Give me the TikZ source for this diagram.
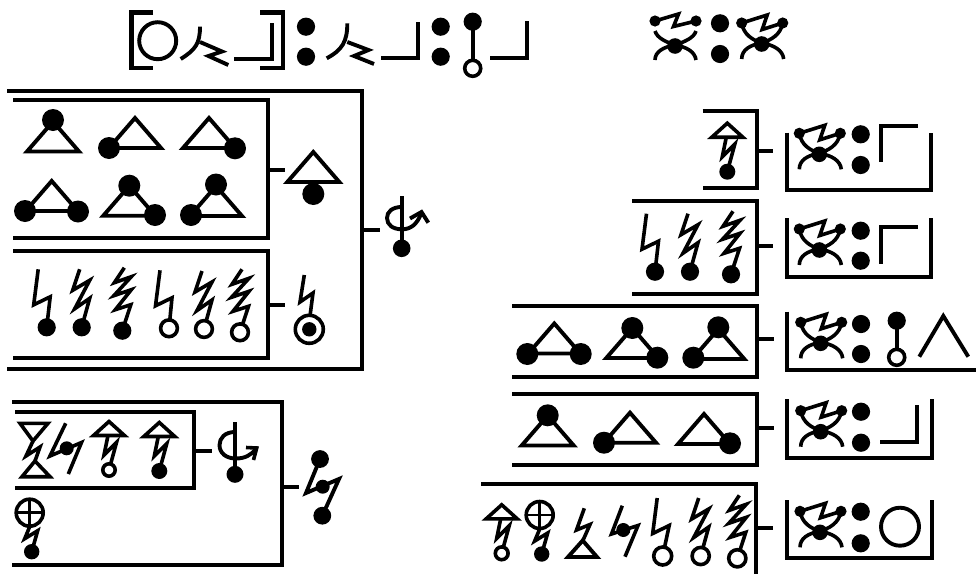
\documentclass[tikz,border=0pt]{standalone}
\tikzset{
  ink/.style={line width=3.9pt,line join=miter,line cap=butt,draw=black},
  thin ink/.style={line width=3.6pt,line join=miter,line cap=butt,draw=black},
  rule/.style={line width=4.2pt,line join=miter,line cap=butt,draw=black}
}
% discs
\newcommand{\FD}[3]{\fill[black] (#1,#2) circle[radius=#3pt+0.5pt];}
\newcommand{\OD}[3]{\draw[thin ink,fill=white] (#1,#2) circle[radius=#3pt];}
% triangle by apex
\newcommand{\Tri}[2]{\draw[ink] (#1,#2) -- ++(-26,30) -- ++(52,0) -- cycle;}
% bolts ending at a disc
\newcommand{\BoltA}[3]{\draw[thin ink,shift={(#1,#2)}] (#3,-58) -- (#3-4.5,-22.5) -- (#3+12,-30.5) -- (0,0);}
\newcommand{\BoltB}[2]{\draw[thin ink,shift={(#1,#2)}] (-2,-58) -- (-9,-37) -- (8,-47) -- (-7,-18.5) -- (8,-29) -- (0,0);}
\newcommand{\BoltC}[2]{\draw[thin ink,shift={(#1,#2)}] (2,-63) -- (-8,-48) -- (9,-54) -- (-8.5,-35) -- (9,-41) -- (-7,-21) -- (8.5,-26) -- (0,0);}
% small triangle with bolt; disc drawn by caller
\newcommand{\TriBolt}[2]{\begin{scope}[shift={(#1,#2)}]
  \draw[thin ink] (0,-48.5) -- (-15.5,-34.5) -- (15.5,-34.5) -- cycle;
  \draw[thin ink] (-1,-34.5) -- (-5,-15) -- (7.5,-27.5) -- (0,0);
\end{scope}}
% circled cross with bolt
\newcommand{\PlusBolt}[2]{\begin{scope}[shift={(#1,#2)}]
  \draw[thin ink] (-2,-39) circle[radius=13.5pt];
  \draw[line width=2.8pt] (-15.5,-39) -- (11.5,-39) (-2,-52.5) -- (-2,-25.5);
  \draw[thin ink] (-2,-25) -- (-7,-13) -- (6,-21) -- (0,0);
  \fill (0,0) circle[radius=7.7pt];
\end{scope}}
% crossed arcs joining three discs
\newcommand{\CrossTie}[2]{\begin{scope}[shift={(#1,#2)}]
  \draw[thin ink] (-20,-21) .. controls (-18,-9) and (-9,-4) .. (0,-1) .. controls (12,1) and (21,6) .. (22,15);
  \draw[thin ink] (21,-21) .. controls (19,-9) and (9,-4) .. (0,-1) .. controls (-12,1) and (-20,6) .. (-20,15);
  \draw[thin ink] (-20,-21) -- (5.5,-29) -- (0.5,-14.5) -- (21,-21);
  \fill (-20,-21) circle[radius=5.6pt] (21,-21) circle[radius=5.6pt] (0,0) circle[radius=7.8pt];
\end{scope}}
\newcommand{\Colon}[3]{\FD{#1}{#2}{8.6}\FD{#1}{#3}{8.6}}
\begin{document}
\begin{tikzpicture}[x=1pt,y=-1pt]
\useasboundingbox[fill=white] (0,0) rectangle (976,573);

% ---- top line
\draw[rule] (153,12.5) -- (131.5,12.5) -- (131.5,68) -- (153,68);
\draw[rule] (260,12.5) -- (283,12.5) -- (283,68) -- (260,68);
\draw[ink] (157.7,40.7) circle[radius=18.5pt];
\draw[ink] (200,26.7) .. controls (200,44) and (195,50) .. (180.7,59);
\draw[ink] (200,42) -- (222,51.5) -- (208.5,56) -- (228.3,65);
\draw[ink] (234.3,59.3) -- (271.7,59.3) -- (271.7,22.7);
\Colon{306}{26.7}{56.7}
\draw[ink] (347.3,23.3) .. controls (347.3,42) and (342,50) .. (326.7,58.3);
\draw[ink] (347.3,42) -- (368.5,50) -- (354,56) -- (374,64);
\draw[ink] (381,58.3) -- (417.7,58.3) -- (417.7,21.7);
\Colon{440.7}{26.7}{56.7}
\draw[ink] (472.7,21.7) -- (472.7,68.3);
\FD{472.7}{21.7}{8.6}
\OD{472.7}{68.3}{8}
\draw[ink] (490,57.7) -- (527.3,57.7) -- (527.3,20.7);

% top right pair
\begin{scope}[shift={(675,46)}]
  \draw[thin ink] (-20,-15) .. controls (-18,-8) and (-9,-4) .. (0,-1) .. controls (12,1) and (20,6) .. (21,14);
  \draw[thin ink] (21,-15) .. controls (19,-8) and (9,-4) .. (0,-1) .. controls (-12,1) and (-20,6) .. (-20,14);
  \draw[thin ink] (-20,-25) -- (3.5,-32) -- (-1.5,-19.5) -- (21,-25);
  \fill (-20,-25) circle[radius=5.6pt] (21,-25) circle[radius=5.6pt] (0,0) circle[radius=7.8pt];
\end{scope}
\Colon{720}{23.3}{54}
\CrossTie{761.7}{44}

% ---- left upper group
\coordinate (oa) at (362.3,230.3);
\coordinate (ob) at (380,230.3);
\draw[rule] (7,91) -- (362.3,91) -- (362.3,369.3) -- (7,369.3);
\draw[rule] (oa) -- (ob);
\draw[rule] (13,100.3) -- (267.7,100.3) -- (267.7,237.7) -- (13,237.7);
\draw[rule] (267.7,170) -- (285,170);
\draw[rule] (13,251) -- (267.7,251) -- (267.7,358.3) -- (13,358.3);
\draw[rule] (267.7,305) -- (285,305);

\Tri{53}{121.5}\FD{53}{120}{10.5}
\Tri{135}{118}\FD{109}{148}{10.5}
\Tri{209}{118}\FD{235}{148.3}{10.5}
\Tri{51.7}{181}\FD{25}{211}{10.5}\FD{78}{211.5}{10.5}
\Tri{129.3}{185.7}\FD{129.3}{185.7}{10.5}\FD{155}{215}{10.5}
\Tri{216}{186}\FD{216}{184.5}{10.5}\FD{191}{215}{10.5}

\BoltA{46.7}{327.3}{-8.5}\FD{46.7}{327.3}{8.6}
\BoltB{81.7}{327.3}\FD{81.7}{327.3}{8.6}
\BoltC{122.3}{330.7}\FD{122.3}{330.7}{8.6}
\BoltA{169}{328.3}{-9}\OD{169}{328.3}{8.4}
\BoltB{204}{329}\OD{204}{329}{8.4}
\BoltC{240}{332.3}\OD{240}{332.3}{8.4}

\Tri{313.3}{152}\FD{313.3}{194}{10.5}
\draw[thin ink] (304.3,275) -- (300,302) -- (313,293) -- (310,316);
\draw[thin ink] (309.3,329.3) circle[radius=14pt];
\FD{309.3}{329.3}{6.7}

\draw[ink] (401.7,196) -- (401.7,248);
\FD{401.7}{248.3}{8.3}
\draw[ink] (401.7,207) .. controls (392,207) and (387,212) .. (387,218) .. controls (387,225) and (393,229.3) .. (402,229.3) .. controls (411,229.3) and (417,224) .. (421,214);
\draw[ink] (410,218.5) -- (421.5,212) -- (428.3,222.7);

% ---- left lower group
\coordinate (pa) at (282,487.3);
\coordinate (pb) at (299.3,487.3);
\draw[rule] (12,402.3) -- (282,402.3) -- (282,565) -- (12,565);
\draw[rule] (pa) -- (pb);
\draw[rule] (15,411.7) -- (194,411.7) -- (194,488.3) -- (15,488.3);
\draw[rule] (194,451) -- (211.7,451);

\draw[thin ink] (20,423.3) -- (48,423.3) -- (33,441) -- cycle;
\draw[thin ink] (22,476.7) -- (50,476.7) -- (35,461) -- cycle;
\draw[thin ink] (33,441) -- (26,456) -- (40,447) -- (35,461);
\draw[thin ink] (65.7,423.3) -- (50,456) -- (81.5,442.5) -- (68.3,474);
\FD{66.7}{448.3}{6.5}
\TriBolt{109}{470}\OD{109}{470}{6.2}
\TriBolt{159.3}{471}\FD{159.3}{471}{7.5}

\draw[ink] (235,422) -- (235,474);
\FD{235}{474.3}{8}
\draw[ink] (235,432) .. controls (225,432) and (219.5,438) .. (219.5,445) .. controls (219.5,453) and (226,458.5) .. (236,458.5) .. controls (245,458.5) and (251,455) .. (256,449);
\draw[thin ink] (246,447.5) -- (256.7,448) -- (253.5,460);

\PlusBolt{31.7}{551.7}

\draw[ink] (320,459) -- (306,493) -- (339,479) -- (322.3,515.7);
\FD{320}{459}{8.4}\FD{322.3}{515.7}{8.4}\FD{322.7}{486.7}{6.5}

% ---- right boxes
\coordinate (ra) at (756.7,150.7);\coordinate (rb) at (773,150.7);
\draw[rule] (702.7,111) -- (756.7,111) -- (756.7,187.7) -- (702.7,187.7);
\draw[rule] (ra) -- (rb);
\coordinate (sa) at (756.7,246);\coordinate (sb) at (773,246);
\draw[rule] (632,201) -- (756.7,201) -- (756.7,294) -- (632,294);
\draw[rule] (sa) -- (sb);
\coordinate (ta) at (756.7,339.3);\coordinate (tb) at (774,339.3);
\draw[rule] (512,305.7) -- (756.7,305.7) -- (756.7,377.3) -- (512,377.3);
\draw[rule] (ta) -- (tb);
\coordinate (ua) at (756.7,427.7);\coordinate (ub) at (774,427.7);
\draw[rule] (512,393.7) -- (756.7,393.7) -- (756.7,465) -- (512,465);
\draw[rule] (ua) -- (ub);
\coordinate (va) at (755.7,528);\coordinate (vb) at (773,528);
\draw[rule] (481,484.3) -- (755.7,484.3) -- (755.7,574);
\draw[rule] (va) -- (vb);

\TriBolt{727.3}{171.7}\FD{727.3}{171.7}{7.5}

\BoltA{655}{271.7}{-8.5}\FD{655}{271.7}{8.6}
\BoltB{690}{271.7}\FD{690}{271.7}{8.6}
\BoltC{731}{274.3}\FD{731}{274.3}{8.6}

\Tri{554.3}{323.5}\FD{527.3}{354}{10.5}\FD{580.7}{354}{10.5}
\Tri{632.3}{328}\FD{632.3}{328}{10.5}\FD{657.3}{357.7}{10.5}
\Tri{718.3}{329}\FD{718.3}{327.3}{10.5}\FD{693.3}{357.7}{10.5}
\Tri{547.7}{415.5}\FD{547.7}{415.3}{10.5}
\Tri{630}{412.7}\FD{604}{442.7}{10.5}
\Tri{704}{414}\FD{730}{443.3}{10.5}

\TriBolt{501.7}{553.3}\OD{501.7}{553.3}{6.4}
\PlusBolt{541.7}{554}
\draw[thin ink] (584.3,508.3) -- (576.5,530) -- (590,524.5) -- (582.7,541);
\draw[ink] (582.7,540.5) -- (568,557) -- (597,557) -- cycle;
\draw[thin ink] (622.3,505.7) -- (611.5,534) -- (638,525.5) -- (625,556.7);
\FD{623.3}{530}{6.5}
\BoltA{662.7}{556}{-5.5}\OD{662.7}{556}{9}
\BoltB{700.7}{556}\OD{700.7}{556}{8.6}
\BoltC{737.3}{558.3}\OD{737.3}{558.3}{8.6}

% ---- right brackets
\draw[rule] (786.7,132.7) -- (786.7,190) -- (931,190) -- (931,132.7);
\CrossTie{819.3}{154.3}
\Colon{860.7}{134.3}{165}
\draw[ink] (917.7,125.7) -- (881,125.7) -- (881,162.3);

\draw[rule] (786.7,218.3) -- (786.7,276.7) -- (931,276.7) -- (931,218.3);
\CrossTie{819.3}{250}
\Colon{860.7}{230.7}{260.7}
\draw[ink] (917.7,227) -- (881,227) -- (881,264);

\draw[rule] (787.3,311.7) -- (787.3,370) -- (976,370);
\CrossTie{820.7}{343.3}
\Colon{861}{324}{354}
\draw[ink] (896.7,320.7) -- (896.7,357);
\FD{896.7}{320.7}{8.6}\OD{896.7}{357.3}{8}
\draw[ink] (919.3,356.7) -- (943.3,316) -- (968.3,356.7);

\draw[rule] (787.3,399.3) -- (787.3,458.3) -- (931.7,458.3) -- (931.7,399.3);
\CrossTie{820.7}{431.7}
\Colon{861}{411.7}{442.7}
\draw[ink] (880,441.7) -- (916.7,441.7) -- (916.7,405);

\draw[rule] (786.7,500) -- (786.7,558.3) -- (931.7,558.3) -- (931.7,500);
\CrossTie{820}{532.3}
\Colon{860.7}{511.7}{543.3}
\draw[ink] (900,526.7) circle[radius=19pt];
\end{tikzpicture}
\end{document}
